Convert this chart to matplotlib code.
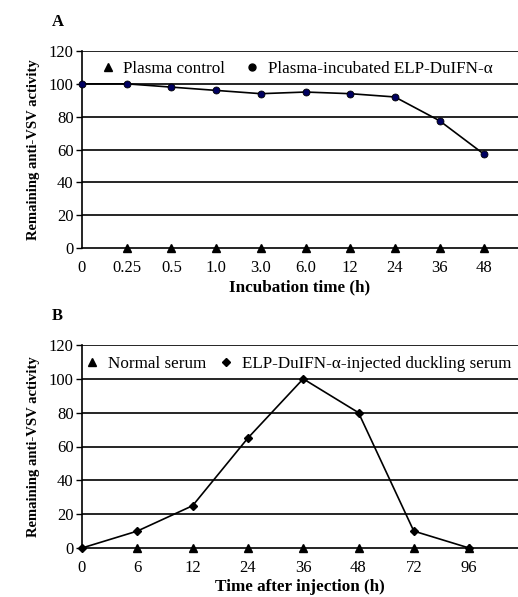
import matplotlib
matplotlib.use("Agg")
import matplotlib.pyplot as plt
from matplotlib.lines import Line2D

plt.rcParams['font.family'] = ['Liberation Serif', 'DejaVu Serif']

# Panel A: incubation in plasma
labels_a = ["0", "0.25", "0.5", "1.0", "3.0", "6.0", "12", "24", "36", "48"]
incubated_a = [100, 100, 98, 96, 94, 95, 94, 92, 77.5, 57]
control_a = [None, 0, 0, 0, 0, 0, 0, 0, 0, 0]

# Panel B: serum after injection
labels_b = ["0", "6", "12", "24", "36", "48", "72", "96"]
injected_b = [0, 10, 25, 65, 100, 80, 10, 0]
normal_b = [None, 0, 0, 0, 0, 0, 0, 0]

yticks = [0, 20, 40, 60, 80, 100, 120]

W, H = 518, 597
fig = plt.figure(figsize=(W / 100, H / 100), dpi=100)


def setup(ax, labels, xlabel, xmax):
    ax.set_ylim(0, 120)
    ax.set_xlim(0, xmax)
    ax.set_yticks(yticks)
    ax.set_xticks(range(len(labels)))
    ax.set_xticklabels(labels)
    for y in yticks[1:]:
        ax.axhline(y, color="black", lw=1.2, zorder=1)
    for s in ["top", "right"]:
        ax.spines[s].set_visible(False)
    ax.spines["left"].set_linewidth(1.2)
    ax.spines["bottom"].set_linewidth(1.2)
    ax.tick_params(axis="y", direction="out", length=4, width=1, labelsize=12, pad=2)
    ax.tick_params(axis="x", length=0, labelsize=12, pad=9)
    ax.set_xlabel(xlabel, fontsize=12.3, fontweight="bold", labelpad=2)
    ax.set_ylabel("Remaining anti-VSV activity", fontsize=10.5, fontweight="bold", labelpad=6)


# ---- A
axA = fig.add_axes([82 / W, 1 - 248 / H, 1 - 82 / W, 197 / H])
setup(axA, labels_a, "Incubation time (h)", (W - 82) / 44.7)
xa = list(range(len(labels_a)))
axA.plot(xa, incubated_a, color="black", lw=1.2, marker="o", ms=5,
         mfc="#000060", mec="black", mew=0.6, zorder=3, clip_on=False)
ca = [(x, v) for x, v in zip(xa, control_a) if v is not None]
axA.plot([p[0] for p in ca], [p[1] for p in ca], ls="none", marker="^", ms=6,
         color="black", zorder=4, clip_on=False)
handles = [Line2D([], [], ls="none", marker="^", ms=6, color="black"),
           Line2D([], [], ls="none", marker="o", ms=5, color="black")]
axA.legend(handles, ["Plasma control", "Plasma-incubated ELP-DuIFN-\u03b1"],
           loc="upper left", bbox_to_anchor=(0.0, 1.025), ncol=2, frameon=False,
           fontsize=12.3, handletextpad=0.3, columnspacing=1.0, handlelength=1.2)
fig.text(52 / W, 1 - 22 / H, "A", fontsize=12, fontweight="bold", va="center")

# ---- B
axB = fig.add_axes([82 / W, 1 - 548 / H, 1 - 82 / W, 203 / H])
setup(axB, labels_b, "Time after injection (h)", (W - 82) / 55.3)
xb = list(range(len(labels_b)))
axB.plot(xb, injected_b, color="black", lw=1.2, marker="D", ms=4,
         mfc="black", mec="black", zorder=3, clip_on=False)
cb = [(x, v) for x, v in zip(xb, normal_b) if v is not None]
axB.plot([p[0] for p in cb], [p[1] for p in cb], ls="none", marker="^", ms=6,
         color="black", zorder=4, clip_on=False)
handles = [Line2D([], [], ls="none", marker="^", ms=6, color="black"),
           Line2D([], [], ls="none", marker="D", ms=4, color="black")]
axB.legend(handles, ["Normal serum", "ELP-DuIFN-\u03b1-injected duckling serum"],
           loc="upper left", bbox_to_anchor=(-0.035, 1.02), ncol=2, frameon=False,
           fontsize=12.3, handletextpad=0.3, columnspacing=0.6, handlelength=1.2)
fig.text(52 / W, 1 - 316 / H, "B", fontsize=12, fontweight="bold", va="center")

fig.savefig("out.png", dpi=100)
